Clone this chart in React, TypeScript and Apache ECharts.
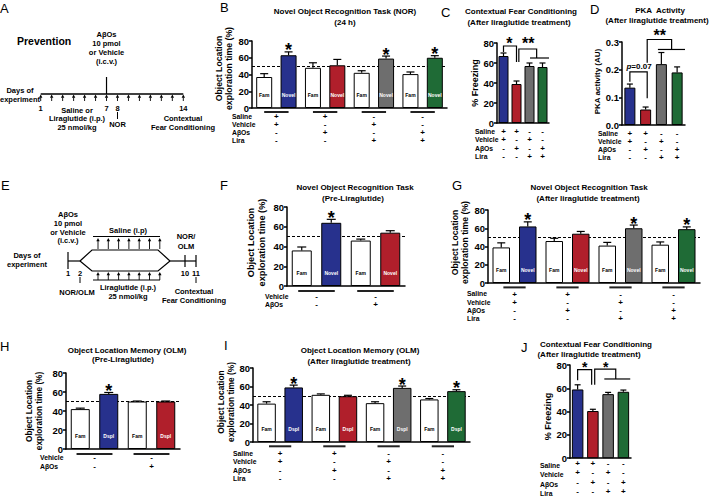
import React, { useEffect, useRef } from 'react';
import * as echarts from 'echarts';

const FONT = "'Liberation Sans', Arial, Helvetica, sans-serif";

// ================= DATA =================
const rowsAfter = ['Saline', 'Vehicle', 'AβOs', 'Lira'];
const rowsPre = ['Vehicle', 'AβOs'];
const groupsAfter = ['Saline+Vehicle', 'Saline+AβOs', 'Lira+Vehicle', 'Lira+AβOs'];
const groupsPre = ['Vehicle', 'AβOs'];
const signsAfter = [
  ['+', '+', '-', '-'],
  ['+', '-', '+', '-'],
  ['-', '+', '-', '+'],
  ['-', '-', '+', '+'],
];
const signsPre = [
  ['-', '-'],
  ['-', '+'],
];
const norObjects = ['Fam', 'Novel'];
const olmObjects = ['Fam', 'Dspl'];

// B: NOR 24 h (prevention)
const bMean = [37, 63, 48, 51, 42, 59, 40.5, 60];
const bErr = [4, 4, 6, 7, 2.5, 3, 2.5, 2.5];
const bStar = [0, 1, 0, 0, 0, 1, 0, 1];
// C: contextual fear conditioning (prevention)
const cMean = [67, 39, 57, 56];
const cErr = [3, 3, 3, 4];
// D: PKA activity
const dMean = [0.135, 0.056, 0.22, 0.19];
const dErr = [0.013, 0.009, 0.042, 0.02];
// F: NOR pre-liraglutide
const fMean = [36, 64, 46, 54];
const fErr = [3.5, 3.5, 1.5, 2];
const fStar = [0, 1, 0, 0];
// G: NOR after liraglutide
const gMean = [39, 62, 46, 54, 41, 60, 42, 59];
const gErr = [5, 5, 3, 2.5, 3.5, 3.5, 3, 2.5];
const gStar = [0, 1, 0, 0, 0, 1, 0, 1];
// H: OLM pre-liraglutide
const hMean = [42, 58, 50, 50];
const hErr = [1, 1.5, 0.5, 0.5];
const hStar = [0, 1, 0, 0];
// I: OLM after liraglutide
const iMean = [41.5, 59, 51, 49.5, 42, 58.5, 46, 55];
const iErr = [2, 2.5, 1, 1, 1.5, 2, 1, 1.5];
const iStar = [0, 1, 0, 0, 0, 1, 0, 1];
// J: contextual fear conditioning (treatment)
const jMean = [59, 40.5, 55, 57];
const jErr = [4, 1.5, 1.5, 1.5];

// significance brackets (category position, value)
const cBrackets = {
  lines: [
    [[0, 71], [0, 77], [1, 77], [1, 61]],
    [[1.18, 61], [1.18, 74], [2.55, 74], [2.55, 65]],
    [[2.04, 65], [3.5, 65]],
  ],
  texts: [
    { c: 0.45, v: 80, text: '*', size: 16 },
    { c: 1.9, v: 80, text: '**', size: 16 },
  ],
};
const dBrackets = {
  lines: [
    [[0, 0.156], [0, 0.192], [1.1, 0.192], [1.1, 0.097]],
    [[1.1, 0.225], [1.1, 0.309], [2.65, 0.309], [2.65, 0.273]],
    [[1.78, 0.273], [3.5, 0.273]],
  ],
  texts: [
    { c: 0.58, v: 0.21, text: '{i|p}=0.07', size: 8 },
    { c: 1.9, v: 0.324, text: '**', size: 16 },
  ],
};
const jBrackets = {
  lines: [
    [[0, 67], [0, 76], [0.92, 76], [0.92, 63]],
    [[1.12, 63], [1.12, 76.5], [2.5, 76.5], [2.5, 68]],
    [[1.75, 68], [3.45, 68]],
  ],
  texts: [
    { c: 0.46, v: 78, text: '*', size: 14 },
    { c: 1.85, v: 78.5, text: '*', size: 14 },
  ],
};

// ================= STYLE / LAYOUT =================
const GROUP_COLORS = ['#27318d', '#b01f2b', '#6e6e6e', '#1f6b36'];
const YNAME_NOR = 'Object Location\nexploration time (%)';
const SIGN_SIZE = 8;
const ROW_SIZE = 6.8;

const panels: any[] = [
  { key: 'B', left: 252, top: 41, width: 195, height: 67, max: 80, interval: 20, mean: bMean, err: bErr, star: bStar, objects: norObjects, groups: groupsAfter, rows: rowsAfter, signs: signsAfter, barWidth: 16, cap: 4, dashed: true, signLH: 8.2, signMargin: 4.2, rowX: 232, lineFrac: 0.5, lineOff: 4, yName: YNAME_NOR, yNameSize: 8.7, yNameLH: 10, yNameGap: 18, yNameShift: 6 },
  { key: 'C', left: 497, top: 43, width: 52, height: 80, max: 80, interval: 20, mean: cMean, err: cErr, groups: groupsAfter, rows: rowsAfter, signs: signsAfter, barWidth: 10, cap: 3, signLH: 8.2, signMargin: 4.6, rowX: 475, yName: '% Freezing', yNameSize: 9, yNameLH: 10, yNameGap: 8, yNameShift: 0, brackets: cBrackets },
  { key: 'D', left: 622, top: 42, width: 63, height: 83, max: 0.3, interval: 0.1, decimals: 1, mean: dMean, err: dErr, groups: groupsAfter, rows: rowsAfter, signs: signsAfter, barWidth: 11, cap: 3, signLH: 8.1, signMargin: 4, rowX: 598, yName: 'PKA activity (AU)', yNameSize: 8, yNameLH: 9, yNameGap: 14, yNameShift: 2, brackets: dBrackets },
  { key: 'F', left: 287, top: 207, width: 118, height: 79, max: 80, interval: 20, mean: fMean, err: fErr, star: fStar, objects: norObjects, groups: groupsPre, rows: rowsPre, signs: signsPre, barWidth: 20, cap: 4.5, dashed: true, signLH: 8.1, signMargin: 6, rowX: 265, lineFrac: 0.62, lineOff: 5, yName: YNAME_NOR, yNameSize: 9.2, yNameLH: 11, yNameGap: 20, yNameShift: 4 },
  { key: 'G', left: 488, top: 210, width: 212, height: 73, max: 80, interval: 20, mean: gMean, err: gErr, star: gStar, objects: norObjects, groups: groupsAfter, rows: rowsAfter, signs: signsAfter, barWidth: 17.5, cap: 4, dashed: true, signLH: 8.2, signMargin: 6.9, rowX: 467, lineFrac: 0.42, lineOff: 4.4, yName: YNAME_NOR, yNameSize: 8.7, yNameLH: 10, yNameGap: 18, yNameShift: 4 },
  { key: 'H', left: 66, top: 373, width: 114, height: 76, max: 80, interval: 20, mean: hMean, err: hErr, star: hStar, objects: olmObjects, groups: groupsPre, rows: rowsPre, signs: signsPre, barWidth: 19, cap: 4.5, dashed: true, signLH: 9.4, signMargin: 3.6, rowX: 40, lineFrac: 0.63, lineOff: 5, yName: YNAME_NOR, yNameSize: 8.2, yNameLH: 10, yNameGap: 22, yNameShift: 0 },
  { key: 'I', left: 253, top: 368, width: 217, height: 74, max: 80, interval: 20, mean: iMean, err: iErr, star: iStar, objects: olmObjects, groups: groupsAfter, rows: rowsAfter, signs: signsAfter, barWidth: 18.5, cap: 4, dashed: true, signLH: 8.2, signMargin: 7.5, rowX: 233, lineFrac: 0.41, lineOff: 4.3, yName: YNAME_NOR, yNameSize: 8.4, yNameLH: 10, yNameGap: 17.5, yNameShift: 3 },
  { key: 'J', left: 570, top: 365, width: 61, height: 95, max: 80, interval: 20, mean: jMean, err: jErr, groups: groupsAfter, rows: rowsAfter, signs: signsAfter, barWidth: 11.5, cap: 3, signLH: 9.2, signMargin: 1, rowX: 540, yName: '% Freezing', yNameSize: 9, yNameLH: 10, yNameGap: 16, yNameShift: -5, brackets: jBrackets },
];

// ================= HELPERS =================
const txt = (x: number, y: number, text: string, size = 7.5, extra: any = {}) => ({
  type: 'text', x, y, silent: true,
  style: { text, fontFamily: FONT, fontWeight: 'bold', fontSize: size, fill: '#000', align: 'center', verticalAlign: 'middle', ...extra },
});
const seg = (x1: number, y1: number, x2: number, y2: number, w = 1.2) => ({
  type: 'line', silent: true, shape: { x1, y1, x2, y2 }, style: { stroke: '#000', lineWidth: w },
});
const upArrow = (x: number, yTip: number, yEnd: number) => [
  { type: 'polygon', silent: true, shape: { points: [[x - 1.7, yTip + 3.2], [x + 1.7, yTip + 3.2], [x, yTip]] }, style: { fill: '#000' } },
  seg(x, yTip + 3, x, yEnd, 0.9),
];
const letter = (x: number, y: number, t: string) => txt(x, y, t, 13, { align: 'left', fontWeight: 'normal' });

function buildGraphics() {
  const g: any[] = [];
  // letters
  g.push(letter(0, 8, 'A'), letter(220, 7, 'B'), letter(441, 12, 'C'), letter(590, 9, 'D'), letter(1, 185, 'E'),
    letter(220, 185, 'F'), letter(452, 185, 'G'), letter(0, 346, 'H'), letter(224, 345, 'I'), letter(521, 347, 'J'));
  // titles
  g.push(
    txt(345, 11, 'Novel Object Recognition Task (NOR)', 8), txt(345, 22.5, '(24 h)', 8),
    txt(521, 11, 'Contextual Fear Conditioning', 8), txt(519, 22.5, '(After liraglutide treatment)', 8),
    txt(660, 10, 'PKA  Activity', 8), txt(657, 20.5, '(After liraglutide treatment)', 8),
    txt(355, 187.5, 'Novel Object Recognition Task', 8), txt(353, 198, '(Pre-Liraglutide)', 8),
    txt(589, 187.5, 'Novel Object Recognition Task', 8), txt(588, 198, '(After liraglutide treatment)', 8),
    txt(127, 350, 'Object Location Memory (OLM)', 8), txt(123, 359.5, '(Pre-Liraglutide)', 8),
    txt(360, 350, 'Object Location Memory (OLM)', 8), txt(359, 361, '(After liraglutide treatment)', 8),
    txt(596, 344, 'Contextual Fear Conditioning', 8), txt(589, 354, '(After liraglutide treatment)', 8),
  );
  // row labels of the treatment tables
  panels.forEach((p) => {
    g.push({
      type: 'text', x: p.rowX, y: p.top + p.height + p.signMargin, silent: true,
      style: { text: p.rows.join('\n'), fontFamily: FONT, fontWeight: 'bold', fontSize: ROW_SIZE, lineHeight: p.signLH, fill: '#000', align: 'left', verticalAlign: 'top' },
    });
  });

  // ----- Panel A: prevention timeline -----
  const dayX = (d: number) => 40.7 + (d - 1) * 10.97;
  g.push(txt(17, 41, 'Prevention', 10.5, { align: 'left' }));
  g.push(txt(dayX(7), 34, 'AβOs'), txt(dayX(7), 43, '10 pmol'), txt(dayX(7), 52, 'or Vehicle'), txt(dayX(7), 61, '(i.c.v.)'));
  g.push(seg(dayX(7), 77, dayX(7), 94));
  g.push(seg(dayX(1), 94, dayX(14), 94, 1.3));
  for (let d = 1; d <= 14; d++) g.push(...upArrow(dayX(d), 94.5, 101));
  g.push(txt(20, 90, 'Days of'), txt(20, 99, 'experiment'));
  g.push(txt(dayX(1), 108, '1'), txt(dayX(7), 108, '7'), txt(dayX(8), 108, '8'), txt(dayX(14), 108, '14'));
  g.push(seg(dayX(8), 112, dayX(8), 119, 1));
  g.push(txt(dayX(8), 124, 'NOR'));
  g.push(txt(77, 110, 'Saline or'), txt(77, 118.5, 'Liraglutide (i.p.)'), txt(77, 127, '25 nmol/kg'));
  g.push(txt(183, 118, 'Contextual'), txt(183, 127.5, 'Fear Conditioning'));

  // ----- Panel E: treatment timeline -----
  g.push(txt(68, 214, 'AβOs'), txt(68, 223, '10 pmol'), txt(68, 232, 'or Vehicle'), txt(68, 240.5, '(i.c.v.)'));
  g.push(txt(27, 255, 'Days of'), txt(27, 264, 'experiment'));
  g.push(seg(68, 252, 68, 269), seg(68, 261, 80, 261));
  g.push({ type: 'polyline', silent: true, shape: { points: [[80, 261], [92, 250], [158, 250], [170, 261]] }, style: { stroke: '#000', lineWidth: 1.2, fill: 'none' } });
  g.push({ type: 'polyline', silent: true, shape: { points: [[80, 261], [92, 271], [158, 271], [170, 261]] }, style: { stroke: '#000', lineWidth: 1.2, fill: 'none' } });
  g.push(seg(170, 261, 196, 261), seg(185, 255, 185, 267), seg(196, 255, 196, 267));
  g.push(txt(68, 273, '1'), txt(80, 273, '2'), seg(80, 277, 80, 283, 1));
  g.push(txt(77, 292, 'NOR/OLM'));
  g.push(txt(128, 230.5, 'Saline (i.p)'), seg(93, 236.5, 160, 236.5));
  g.push(seg(93, 280, 160, 280));
  for (let k = 0; k < 7; k++) {
    const x = 98 + k * 10.3;
    g.push(...upArrow(x, 238, 249));
    g.push(...upArrow(x, 272, 280));
  }
  g.push(txt(128, 287.5, 'Liraglutide (i.p.)'), txt(128, 296.5, '25 nmol/kg'));
  g.push(txt(186, 236, 'NOR/'), txt(186, 246.5, 'OLM'));
  g.push(txt(185, 273, '10'), txt(196, 273, '11'), seg(196, 277, 196, 283, 1));
  g.push(txt(194, 291, 'Contextual'), txt(194, 300, 'Fear Conditioning'));
  return g;
}

function buildOption() {
  const grid: any[] = [];
  const xAxis: any[] = [];
  const yAxis: any[] = [];
  const series: any[] = [];

  panels.forEach((p) => {
    const gi = grid.length;
    grid.push({ left: p.left, top: p.top, width: p.width, height: p.height });
    const yi = yAxis.length;
    const pad = p.yNameShift >= 0 ? [0, 0, 0, p.yNameShift * 2] : [0, -p.yNameShift * 2, 0, 0];
    yAxis.push({
      type: 'value', gridIndex: gi, min: 0, max: p.max, interval: p.interval,
      axisLine: { show: true, lineStyle: { color: '#000', width: 1.5 } },
      axisTick: { show: true, length: 3, lineStyle: { color: '#000', width: 1.5 } },
      splitLine: { show: false },
      axisLabel: {
        margin: 3, fontFamily: FONT, fontWeight: 'bold', fontSize: 9.5, color: '#000',
        formatter: (v: number) => (p.decimals ? v.toFixed(p.decimals) : String(v)),
      },
      name: p.yName, nameLocation: 'middle', nameRotate: 90, nameGap: p.yNameGap,
      nameTextStyle: { fontFamily: FONT, fontWeight: 'bold', fontSize: p.yNameSize, lineHeight: p.yNameLH, color: '#000', padding: pad },
    });
    const paired = !!p.objects;
    const barNames = p.mean.map((_: number, i: number) => (paired ? `${p.objects[i % 2]} (${p.groups[Math.floor(i / 2)]})` : p.groups[i]));
    const colorOf = (i: number) => (paired ? (i % 2 === 0 ? '#ffffff' : GROUP_COLORS[Math.floor(i / 2)]) : GROUP_COLORS[i]);
    const signLabel = {
      show: true, interval: 0, margin: p.signMargin, color: '#000', fontFamily: FONT, fontWeight: 'bold', fontSize: SIGN_SIZE, lineHeight: p.signLH,
      formatter: (_v: any, idx: number) => p.signs.map((r: string[]) => r[idx]).join('\n'),
    };
    const xi = xAxis.length;
    xAxis.push({
      type: 'category', gridIndex: gi, position: 'bottom', data: barNames,
      axisLine: { show: true, lineStyle: { color: '#000', width: 1.5 } },
      axisTick: { show: false },
      axisLabel: paired ? { show: false } : signLabel,
    });
    let pi = -1;
    if (paired) {
      pi = xAxis.length;
      xAxis.push({
        type: 'category', gridIndex: gi, position: 'bottom', data: p.groups,
        axisLine: { show: false }, axisTick: { show: false }, axisLabel: signLabel,
      });
    }

    series.push({
      type: 'bar', name: p.key, xAxisIndex: xi, yAxisIndex: yi, barWidth: p.barWidth,
      data: p.mean.map((v: number, i: number) => ({
        value: v,
        itemStyle: { color: colorOf(i), borderColor: '#000', borderWidth: 1 },
        label: { color: paired && i % 2 === 0 ? '#000' : '#fff' },
      })),
      label: {
        show: paired, position: 'insideBottom', distance: 11, fontFamily: FONT, fontWeight: 'bold', fontSize: 5,
        formatter: (prm: any) => (p.objects ? p.objects[prm.dataIndex % 2] : ''),
      },
      markLine: p.dashed
        ? { silent: true, z: 1, symbol: ['none', 'none'], label: { show: false }, lineStyle: { color: '#000', width: 1.2, type: [3, 2] }, data: [{ yAxis: 50 }] }
        : undefined,
    });

    series.push({
      type: 'custom', xAxisIndex: xi, yAxisIndex: yi, clip: false, z: 3,
      data: p.mean.map((v: number, i: number) => [i, v, p.err[i], p.star ? p.star[i] : 0]),
      encode: { x: 0, y: 1 },
      renderItem: (_params: any, api: any) => {
        const i = api.value(0), m = api.value(1), e = api.value(2), s = api.value(3);
        const base = api.coord([i, m]);
        const top = api.coord([i, m + e]);
        const ch: any[] = [
          { type: 'line', shape: { x1: base[0], y1: base[1], x2: base[0], y2: top[1] }, style: { stroke: '#000', lineWidth: 1.2 } },
          { type: 'line', shape: { x1: base[0] - p.cap, y1: top[1], x2: base[0] + p.cap, y2: top[1] }, style: { stroke: '#000', lineWidth: 1.2 } },
        ];
        if (s) {
          ch.push({ type: 'text', x: base[0], y: top[1] - 1.5, style: { text: '*', fontFamily: FONT, fontWeight: 'bold', fontSize: 18, fill: '#000', align: 'center', verticalAlign: 'middle' } });
        }
        return { type: 'group', children: ch };
      },
    });

    if (paired) {
      series.push({
        type: 'custom', xAxisIndex: pi, yAxisIndex: yi, clip: false,
        data: p.groups.map((_: string, k: number) => [k, 0]),
        encode: { x: 0, y: 1 },
        renderItem: (_params: any, api: any) => {
          const c = api.coord([api.value(0), 0]);
          const w = api.size([1, 0])[0] * p.lineFrac;
          return { type: 'line', shape: { x1: c[0] - w / 2, y1: c[1] + p.lineOff, x2: c[0] + w / 2, y2: c[1] + p.lineOff }, style: { stroke: '#222', lineWidth: 2 } };
        },
      });
    }

    if (p.brackets) {
      const br = p.brackets;
      series.push({
        type: 'custom', xAxisIndex: xi, yAxisIndex: yi, clip: false, z: 4,
        data: [[0, 0]], encode: { x: 0, y: 1 },
        renderItem: (_params: any, api: any) => {
          const band = api.size([1, 0])[0];
          const pt = (c: number, v: number) => {
            const f = Math.floor(c);
            const q = api.coord([f, v]);
            return [q[0] + (c - f) * band, q[1]];
          };
          const ch: any[] = br.lines.map((line: number[][]) => ({
            type: 'polyline', shape: { points: line.map(([c, v]) => pt(c, v)) }, style: { stroke: '#000', lineWidth: 1.2, fill: null },
          }));
          br.texts.forEach((t: any) => {
            const q = pt(t.c, t.v);
            ch.push({
              type: 'text', x: q[0], y: q[1],
              style: { text: t.text, fontFamily: FONT, fontWeight: 'bold', fontSize: t.size, fill: '#000', align: 'center', verticalAlign: 'middle', rich: { i: { fontStyle: 'italic', fontWeight: 'bold', fontFamily: FONT, fontSize: t.size } } },
            });
          });
          return { type: 'group', children: ch };
        },
      });
    }
  });

  return {
    animation: false,
    backgroundColor: '#ffffff',
    textStyle: { fontFamily: FONT },
    grid, xAxis, yAxis, series,
    graphic: { elements: buildGraphics() },
  };
}

export default function App() {
  const ref = useRef<HTMLDivElement>(null);
  useEffect(() => {
    if (!ref.current) return;
    const chart = echarts.init(ref.current, undefined, { renderer: 'svg' });
    chart.setOption(buildOption() as any);
    return () => chart.dispose();
  }, []);
  return <div ref={ref} style={{ position: 'fixed', left: 0, top: 0, width: 709, height: 496, background: '#fff' }} />;
}
